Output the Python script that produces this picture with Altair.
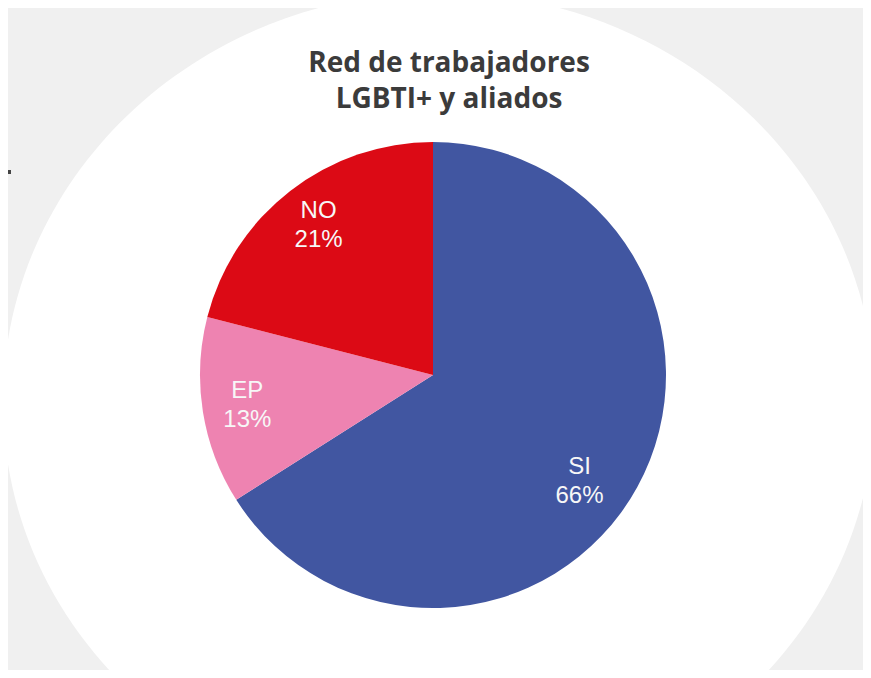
import altair as alt
import pandas as pd

# ---- data ----
categories = ["SI", "EP", "NO"]
values = [66, 13, 21]
slice_order = [0, 1, 2]
colors = ["#4156A1", "#EE83B1", "#DC0A15"]
title_lines = ["Red de trabajadores", "LGBTI+ y aliados"]

labels = [f"{c}\n{v}%" for c, v in zip(categories, values)]
df = pd.DataFrame({
    "cat": categories,
    "value": values,
    "ord": slice_order,
    "lab_main": [l if c != "SI" else "" for c, l in zip(categories, labels)],
    "lab_si": [l if c == "SI" else "" for c, l in zip(categories, labels)],
})

W, H = 855, 662
CX, CY = 425, 367   # pie centre inside the view
R = 233

theta = alt.Theta("value:Q", stack=True)
order = alt.Order("ord:Q")

# white backdrop ellipse
ellipse_path = "M -1 0 A 1 0.94 0 1 1 1 0 A 1 0.94 0 1 1 -1 0 Z"
backdrop = alt.Chart(pd.DataFrame({"k": [0]})).mark_point(
    shape=ellipse_path, size=872 * 872, filled=True, color="white",
    opacity=1, strokeWidth=0
).encode(x=alt.value(431), y=alt.value(394))

dash = alt.Chart(pd.DataFrame({"k": [0]})).mark_rule(
    color="#444444", strokeWidth=4
).encode(x=alt.value(0), x2=alt.value(3), y=alt.value(164))

title = alt.Chart(pd.DataFrame({"k": [0]})).mark_text(
    text=title_lines, font="Open Sans", fontSize=28, fontWeight="bold",
    color="#3b3b3b", align="center", baseline="alphabetic", lineHeight=36
).encode(x=alt.value(441), y=alt.value(64))

pie = alt.Chart(df).mark_arc(outerRadius=R).encode(
    theta=theta,
    color=alt.Color("cat:N", scale=alt.Scale(domain=categories, range=colors), legend=None),
    order=order,
    x=alt.value(CX), y=alt.value(CY),
)

lab_style = dict(font="Liberation Sans", fontSize=24, color="#f7f7f7",
                 align="center", baseline="middle", lineBreak="\n", lineHeight=29)

labels_main = alt.Chart(df).mark_text(radius=190, dx=2, dy=-14, **lab_style).encode(
    theta=theta, order=order, detail="cat:N", text="lab_main:N",
    x=alt.value(CX), y=alt.value(CY),
)
labels_si = alt.Chart(df).mark_text(radius=190, dx=-20, dy=0, **lab_style).encode(
    theta=theta, order=order, detail="cat:N", text="lab_si:N",
    x=alt.value(CX), y=alt.value(CY),
)

chart = alt.layer(backdrop, dash, title, pie, labels_main, labels_si).properties(
    width=W, height=H,
    autosize=alt.AutoSizeParams(type="none"),
    padding=0,
    background="#f0f0f0",
).configure_view(stroke=None)

chart.save("out.html", embed_options={"renderer": "svg", "actions": False})
